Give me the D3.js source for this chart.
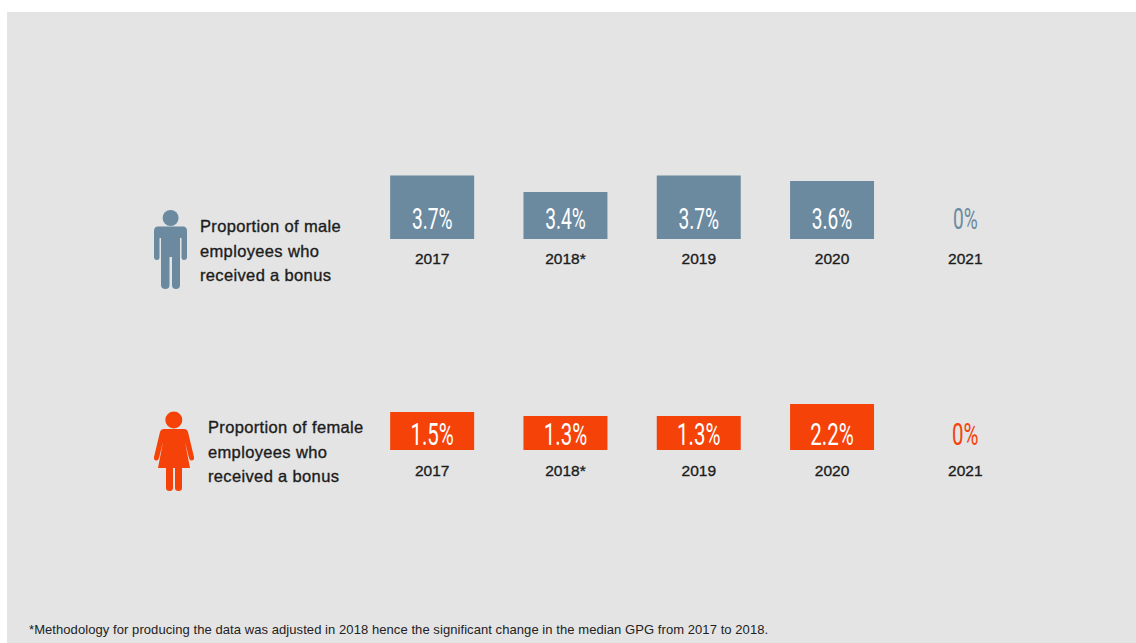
<!DOCTYPE html>
<html>
<head>
<meta charset="utf-8">
<script src="https://cdn.jsdelivr.net/npm/d3@7"></script>
<style>
  html, body { margin: 0; padding: 0; background: #fff; }
  svg { display: block; }
</style>
</head>
<body>
<svg id="chart" width="1136" height="643"></svg>
<script>
const years = ["2017", "2018*", "2019", "2020", "2021"];
const maleValues = [3.7, 3.4, 3.7, 3.6, 0];
const femaleValues = [1.5, 1.3, 1.3, 2.2, 0];
const maleLines = ["Proportion of male", "employees who", "received a bonus"];
const femaleLines = ["Proportion of female", "employees who", "received a bonus"];
const footnote = "*Methodology for producing the data was adjusted in 2018 hence the significant change in the median GPG from 2017 to 2018.";

const maleColor = "#6b8aa0";
const femaleColor = "#f44209";
const inkColor = "#1c1c1c";

const svg = d3.select("#chart");

svg.append("rect")
  .attr("x", 7).attr("y", 12)
  .attr("width", 1129).attr("height", 631)
  .attr("fill", "#e4e4e4");

const x = d3.scaleBand()
  .domain(years)
  .range([365.5, 1032])
  .paddingInner(0.37)
  .paddingOuter(0.185);

// Each row has its own height scale; bars grow upward from the row's baseline.
const rows = [
  {
    values: maleValues, color: maleColor, lines: maleLines,
    baseline: 239,
    y: d3.scaleLinear().domain([3.4, 3.7]).range([192, 175.5]),
    labelY: 229, labelSize: 29, yearY: 265,
    textX: 200, textY: 232
  },
  {
    values: femaleValues, color: femaleColor, lines: femaleLines,
    baseline: 450,
    y: d3.scaleLinear().domain([1.3, 1.5, 2.2]).range([416, 412, 404]),
    labelY: 445, labelSize: 31, yearY: 477,
    textX: 208, textY: 433
  }
];

function pctLabel(v) { return v + "%"; }

rows.forEach(row => {
  const g = svg.append("g");

  g.selectAll("rect.bar")
    .data(row.values.map((v, i) => ({ v, year: years[i] })).filter(d => d.v > 0))
    .join("rect")
    .attr("class", "bar")
    .attr("x", d => x(d.year))
    .attr("y", d => row.y(d.v))
    .attr("width", x.bandwidth())
    .attr("height", d => row.baseline - row.y(d.v))
    .attr("fill", row.color);

  // Narrow percentage figures: white on bars, series colour when there is no bar.
  g.selectAll("text.value")
    .data(row.values.map((v, i) => ({ v, year: years[i] })))
    .join("text")
    .attr("class", "value")
    .attr("transform", d => `translate(${x(d.year) + x.bandwidth() / 2},${row.labelY}) scale(0.66,1)`)
    .attr("text-anchor", "middle")
    .attr("font-family", "Roboto, sans-serif")
    .attr("font-weight", 400)
    .attr("font-size", row.labelSize)
    .attr("fill", d => d.v > 0 ? "#fff" : row.color)
    .text(d => pctLabel(d.v));

  const axis = d3.axisBottom(x).tickSize(0).tickPadding(0);
  const axisG = g.append("g")
    .attr("transform", `translate(0,${row.yearY - 12})`)
    .call(axis);
  axisG.select(".domain").remove();
  axisG.selectAll("text")
    .attr("font-family", "'Liberation Sans', Arial, sans-serif")
    .attr("font-size", 15.5)
    .attr("fill", inkColor)
    .attr("stroke", inkColor)
    .attr("stroke-width", 0.35);

  g.append("g").selectAll("text")
    .data(row.lines)
    .join("text")
    .attr("x", row.textX)
    .attr("y", (d, i) => row.textY + i * 24.5)
    .attr("font-family", "'Liberation Sans', Arial, sans-serif")
    .attr("font-size", 16.5)
    .attr("letter-spacing", 0.35)
    .attr("fill", inkColor)
    .attr("stroke", inkColor)
    .attr("stroke-width", 0.35)
    .text(d => d);
});

// Pictogram of a man
const man = svg.append("g").attr("fill", maleColor);
man.append("circle").attr("cx", 170.6).attr("cy", 218).attr("r", 8);
man.append("path").attr("d",
  "M158 226.5 H183 Q187 226.5 187 231 V257 Q187 260 184 260 Q181.5 260 181.5 257 V238 H180 V285 Q180 289 176 289 Q172 289 172 285 V257 H169.5 V285 Q169.5 289 165.5 289 Q161 289 161 285 V238 H159.5 V257 Q159.5 260 157 260 Q154 260 154 257 V231 Q154 226.5 158 226.5 Z");

// Pictogram of a woman
const woman = svg.append("g").attr("fill", femaleColor);
woman.append("circle").attr("cx", 173.8).attr("cy", 420).attr("r", 8.5);
woman.append("path").attr("d",
  "M164 429 H184 Q187 429 188 432 L194 457 Q194.5 460 192 460.5 Q190 461 189 458 L185 442 L190 468 H182 V488 Q182 491 178.5 491 Q175 491 175 488 V468 H173 V488 Q173 491 169.5 491 Q166 491 166 488 V468 H158 L163 442 L159 458 Q158 461 156 460.5 Q153.5 460 154 457 L160 432 Q161 429 164 429 Z");

svg.append("text")
  .attr("x", 29).attr("y", 633.5)
  .attr("font-family", "'Liberation Sans', Arial, sans-serif")
  .attr("font-size", 13)
  .attr("letter-spacing", 0.07)
  .attr("fill", "#222")
  .text(footnote);
</script>
</body>
</html>
